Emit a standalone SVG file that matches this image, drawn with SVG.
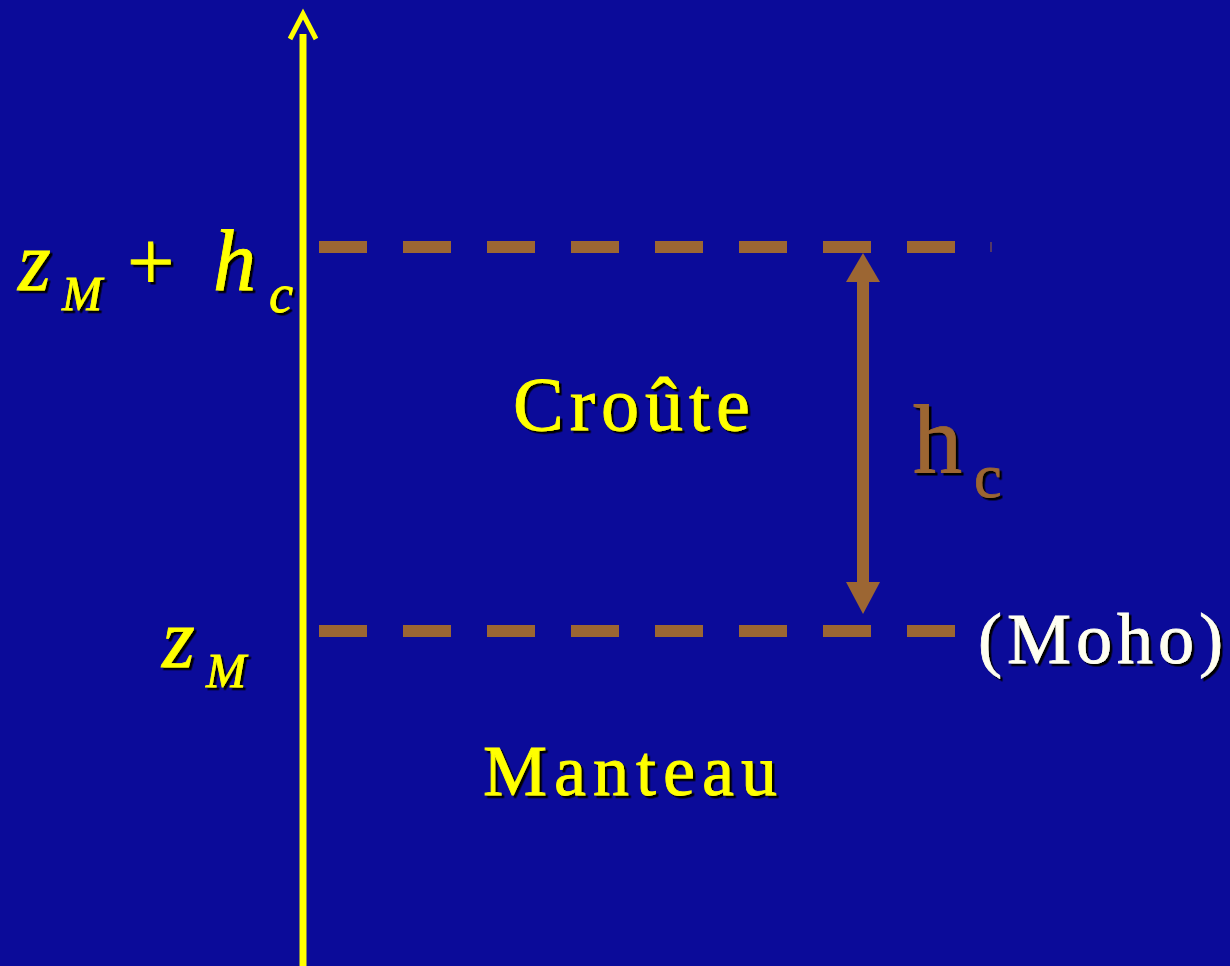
<svg xmlns="http://www.w3.org/2000/svg" width="1230" height="966" viewBox="0 0 1230 966">
<defs>
<style>
.serif{font-family:"Liberation Serif","Times New Roman",serif;}
.yel{fill:#FFFF00;stroke:#FFFF00;stroke-width:0.8;}
.brn{fill:#9C6633;stroke:#9C6633;stroke-width:0.8;}
.wht{fill:#FFFFF0;stroke:#FFFFF0;stroke-width:0.8;}
.it{font-style:italic;}
.dash{stroke:#9C6633;stroke-width:12;stroke-dasharray:48 36;fill:none;}
.sh{filter:url(#ds);}
</style>
<filter id="ds" x="-10%" y="-10%" width="130%" height="130%">
<feDropShadow dx="2.5" dy="2.5" stdDeviation="0" flood-color="#000" flood-opacity="1"/>
</filter>
</defs>
<rect x="0" y="0" width="1230" height="966" fill="#0B0B99"/>

<g id="axis">
<line x1="303" y1="34" x2="303" y2="966" stroke="#FFFF00" stroke-width="7"/>
<polyline points="290,39 303,14 316,39" fill="none" stroke="#FFFF00" stroke-width="5"/>
</g>

<g id="connectors">
<line class="dash" x1="319" y1="247" x2="960" y2="247"/>
<line x1="991" y1="242" x2="991" y2="252" stroke="#9C6633" stroke-width="1"/>
<line class="dash" x1="319" y1="631" x2="960" y2="631"/>
<line x1="863" y1="280" x2="863" y2="585" stroke="#9C6633" stroke-width="12"/>
<polygon points="863,253 880,282 846,282" fill="#9C6633"/>
<polygon points="863,614 880,582 846,582" fill="#9C6633"/>
</g>

<g id="label-top" class="sh">
<text class="serif it yel" x="18" y="290" font-size="84">z</text>
<text class="serif it yel" x="62" y="310" font-size="48">M</text>
<text class="serif yel" x="127" y="290" font-size="84">+</text>
<text class="serif it yel" x="213" y="290" font-size="86">h</text>
<text class="serif it yel" x="269" y="312" font-size="54">c</text>
</g>

<g id="label-bottom" class="sh">
<text class="serif it yel" x="162" y="667" font-size="84">z</text>
<text class="serif it yel" x="206" y="687" font-size="48">M</text>
</g>

<g id="croute" class="sh">
<text class="serif yel" x="513" y="430" font-size="76" letter-spacing="6">Croûte</text>
</g>

<g id="manteau" class="sh">
<text class="serif yel" x="483" y="795" font-size="72" letter-spacing="7">Manteau</text>
</g>

<g id="moho" class="sh">
<text class="serif wht" x="978" y="663" font-size="72" letter-spacing="5">(Moho)</text>
</g>

<g id="hc" class="sh">
<text class="serif brn" x="913" y="472" font-size="98">h</text>
<text class="serif brn" x="974" y="497" font-size="62">c</text>
</g>
</svg>
